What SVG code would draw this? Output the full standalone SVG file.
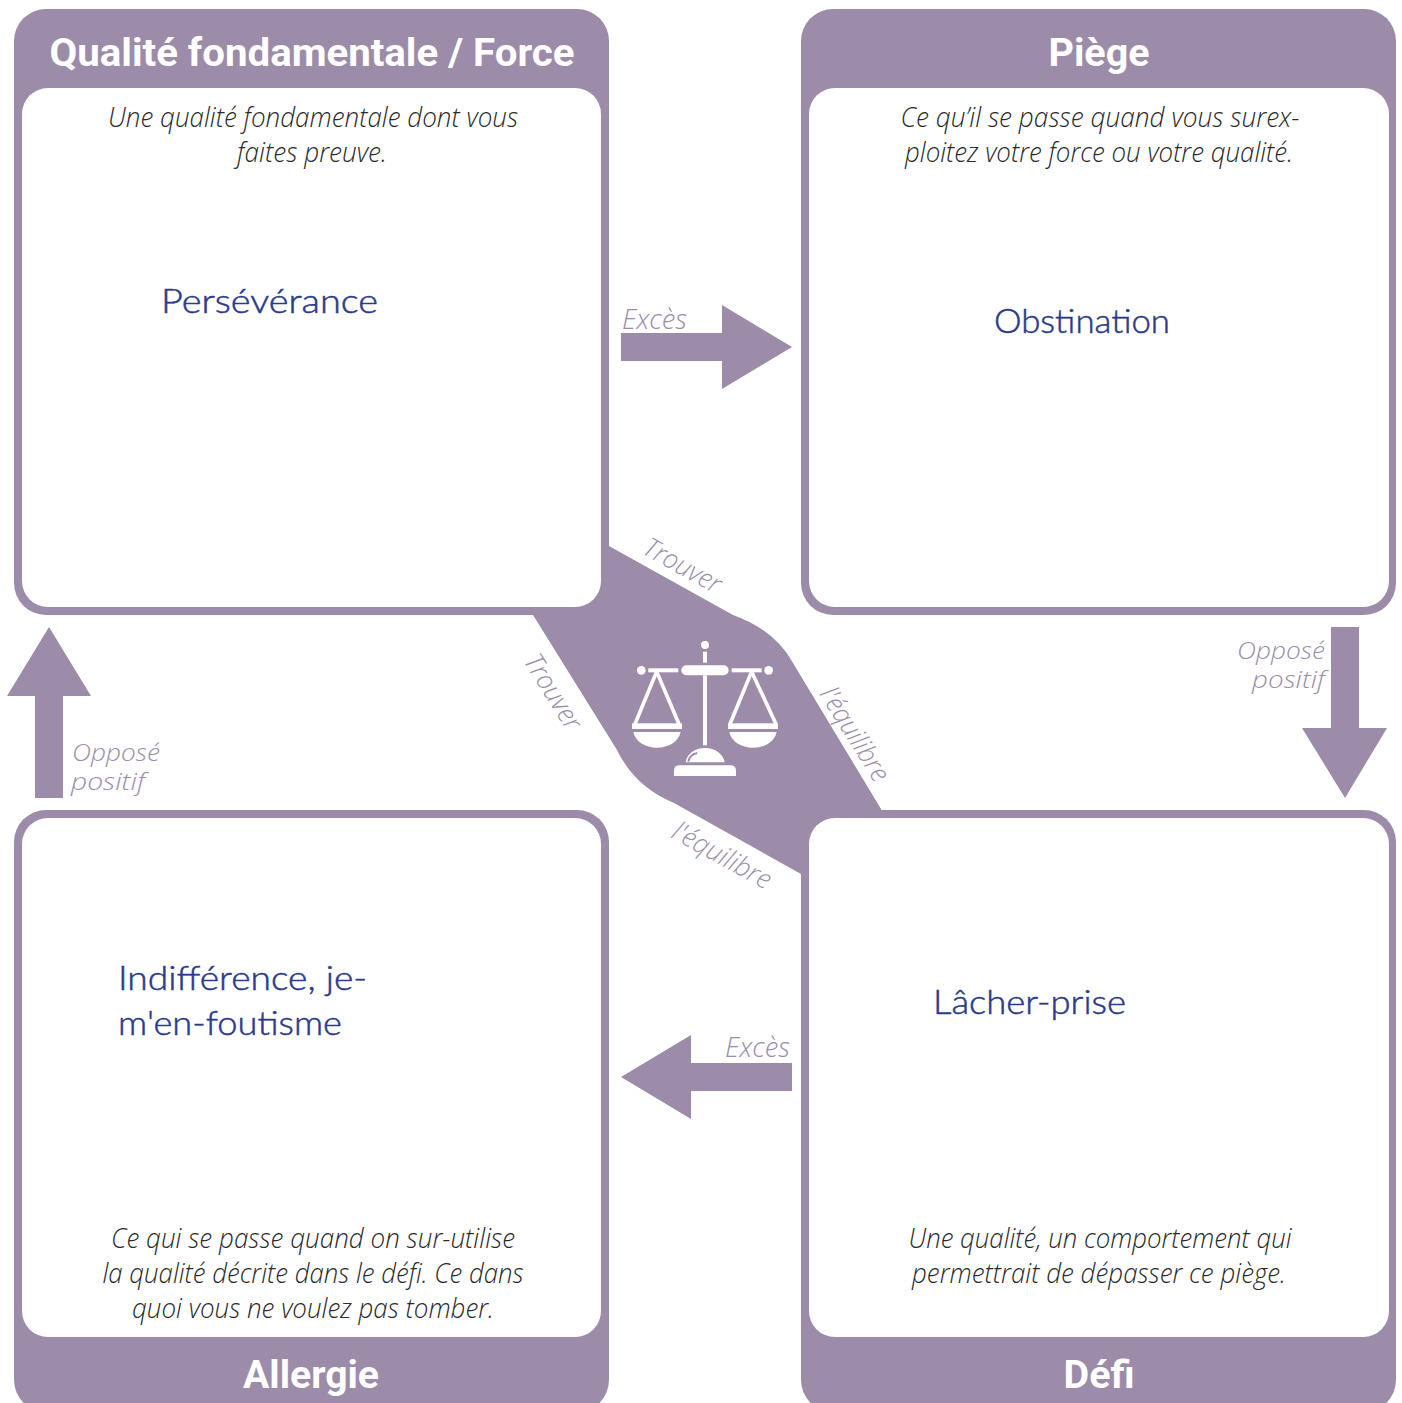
<svg xmlns="http://www.w3.org/2000/svg" width="1402" height="1403" viewBox="0 0 1402 1403">
<style>
.o{fill:#9d8ca9}
.i{fill:#fff}
.t{font-family:Roboto,"Liberation Sans",sans-serif;font-weight:700;font-size:38px;fill:#fff;text-anchor:middle}
.d{font-family:"Open Sans","Liberation Sans",sans-serif;font-weight:300;font-style:italic;font-size:28px;fill:#2a2a2a;text-anchor:middle}
.l{font-family:"Open Sans","Liberation Sans",sans-serif;font-weight:300;font-style:italic;font-size:27px;fill:#9d8ca9}
.s{font-size:24px}
.h{font-family:"Lato","Liberation Sans",sans-serif;font-weight:300;font-size:33px;fill:#2b3a8c;stroke:#2b3a8c;stroke-width:.5px}
</style>
<rect width="1402" height="1403" fill="#fff"/>
<g id="connectors">
<path class="o" d="M609 546L733 615Q775 630 793 663L881 809L881 830L801 880L801 874L674 803Q635 787 617 750L533 615L540 590Z"/>
<path class="o" d="M621 333H722V305L792 347L722 389V361H621Z"/>
<path class="o" d="M792 1063H691V1035L621 1077L691 1119V1091H792Z"/>
<path class="o" d="M1331 627H1359V728H1387L1345 798L1302 728H1331Z"/>
<path class="o" d="M35 798H63V696H91L49 627L7 696H35Z"/>
</g>
<g id="node-force">
<rect class="o" x="14" y="9" width="595" height="606" rx="32"/>
<rect class="i" x="22" y="88" width="579" height="519" rx="26"/>
<text class="t" x="312" y="66" textLength="525" lengthAdjust="spacingAndGlyphs">Qualité fondamentale / Force</text>
<text class="d" x="313" y="127" textLength="410" lengthAdjust="spacingAndGlyphs">Une qualité fondamentale dont vous</text>
<text class="d" x="312" y="162" textLength="150" lengthAdjust="spacingAndGlyphs">faites preuve.</text>
<text class="h" x="161" y="313" textLength="217" lengthAdjust="spacingAndGlyphs">Persévérance</text>
</g>
<g id="node-piege">
<rect class="o" x="801" y="9" width="595" height="606" rx="32"/>
<rect class="i" x="809" y="88" width="580" height="519" rx="26"/>
<text class="t" x="1099" y="66" textLength="101" lengthAdjust="spacingAndGlyphs">Piège</text>
<text class="d" x="1100" y="127" textLength="399" lengthAdjust="spacingAndGlyphs">Ce qu’il se passe quand vous surex-</text>
<text class="d" x="1099" y="162" textLength="388" lengthAdjust="spacingAndGlyphs">ploitez votre force ou votre qualité.</text>
<text class="h" x="994" y="333" textLength="176" lengthAdjust="spacingAndGlyphs">Obstination</text>
</g>
<g id="node-allergie">
<rect class="o" x="14" y="810" width="595" height="602" rx="32"/>
<rect class="i" x="22" y="818" width="579" height="519" rx="26"/>
<text class="t" x="311" y="1388" textLength="136" lengthAdjust="spacingAndGlyphs">Allergie</text>
<text class="d" x="313" y="1248" textLength="404" lengthAdjust="spacingAndGlyphs">Ce qui se passe quand on sur-utilise</text>
<text class="d" x="313" y="1283" textLength="421" lengthAdjust="spacingAndGlyphs">la qualité décrite dans le défi. Ce dans</text>
<text class="d" x="313" y="1318" textLength="362" lengthAdjust="spacingAndGlyphs">quoi vous ne voulez pas tomber.</text>
<text class="h" x="118" y="990" textLength="249" lengthAdjust="spacingAndGlyphs">Indifférence, je-</text>
<text class="h" x="118" y="1035" textLength="224" lengthAdjust="spacingAndGlyphs">m'en-foutisme</text>
</g>
<g id="node-defi">
<rect class="o" x="801" y="810" width="595" height="602" rx="32"/>
<rect class="i" x="809" y="818" width="580" height="519" rx="26"/>
<text class="t" x="1099" y="1388" textLength="71" lengthAdjust="spacingAndGlyphs">Défi</text>
<text class="d" x="1100" y="1248" textLength="383" lengthAdjust="spacingAndGlyphs">Une qualité, un comportement qui</text>
<text class="d" x="1099" y="1283" textLength="374" lengthAdjust="spacingAndGlyphs">permettrait de dépasser ce piège.</text>
<text class="h" x="933" y="1014" textLength="193" lengthAdjust="spacingAndGlyphs">Lâcher-prise</text>
</g>
<g id="labels">
<text class="l" x="622" y="329" textLength="65" lengthAdjust="spacingAndGlyphs">Excès</text>
<text class="l" x="725" y="1057" textLength="65" lengthAdjust="spacingAndGlyphs">Excès</text>
<text class="l s" x="1237" y="659" textLength="88" lengthAdjust="spacingAndGlyphs">Opposé</text>
<text class="l s" x="1252" y="688" textLength="73" lengthAdjust="spacingAndGlyphs">positif</text>
<text class="l s" x="72" y="761" textLength="88" lengthAdjust="spacingAndGlyphs">Opposé</text>
<text class="l s" x="71" y="790" textLength="74" lengthAdjust="spacingAndGlyphs">positif</text>
<text class="l" transform="translate(641 553) rotate(29)" textLength="85" lengthAdjust="spacingAndGlyphs">Trouver</text>
<text class="l" transform="translate(523 661) rotate(58)" textLength="84" lengthAdjust="spacingAndGlyphs">Trouver</text>
<text class="l" transform="translate(819 694) rotate(58)" textLength="106" lengthAdjust="spacingAndGlyphs">l'équilibre</text>
<text class="l" transform="translate(670 837) rotate(29)" textLength="109" lengthAdjust="spacingAndGlyphs">l'équilibre</text>
</g>
<g id="node-balance" transform="translate(520 530) scale(.3333)">
<circle cx="555" cy="345" r="12" fill="#fff"/>
<rect x="549" y="365" width="12" height="33" fill="#fff"/>
<rect x="484" y="406" width="142" height="30" rx="15" fill="#fff"/>
<rect x="549" y="436" width="12" height="210" fill="#fff"/>
<circle cx="364" cy="421" r="13" fill="#fff"/>
<circle cx="746" cy="421" r="13" fill="#fff"/>
<rect x="385" y="415" width="90" height="12" fill="#fff"/>
<rect x="635" y="415" width="90" height="12" fill="#fff"/>
<path d="M410 425L345 582M410 425L477 582M695 425L630 582M695 425L768 582" fill="none" stroke="#fff" stroke-width="11"/>
<rect x="336" y="580" width="150" height="17" fill="#fff"/>
<rect x="624" y="580" width="150" height="17" fill="#fff"/>
<path d="M340 606H482C476 635 446 653 411 653C376 653 346 635 340 606Z" fill="#fff"/>
<path d="M628 606H770C764 635 734 653 699 653C664 653 634 635 628 606Z" fill="#fff"/>
<path d="M497 697C500 672 525 654 555 654C585 654 610 672 614 697Z" fill="#fff"/>
<path d="M505 695C507 682 518 672 532 669" fill="none" stroke="#9d8ca9" stroke-width="6"/>
<path d="M462 738V722Q462 706 480 706H630Q648 706 648 722V738Z" fill="#fff"/>
</g>
</svg>
